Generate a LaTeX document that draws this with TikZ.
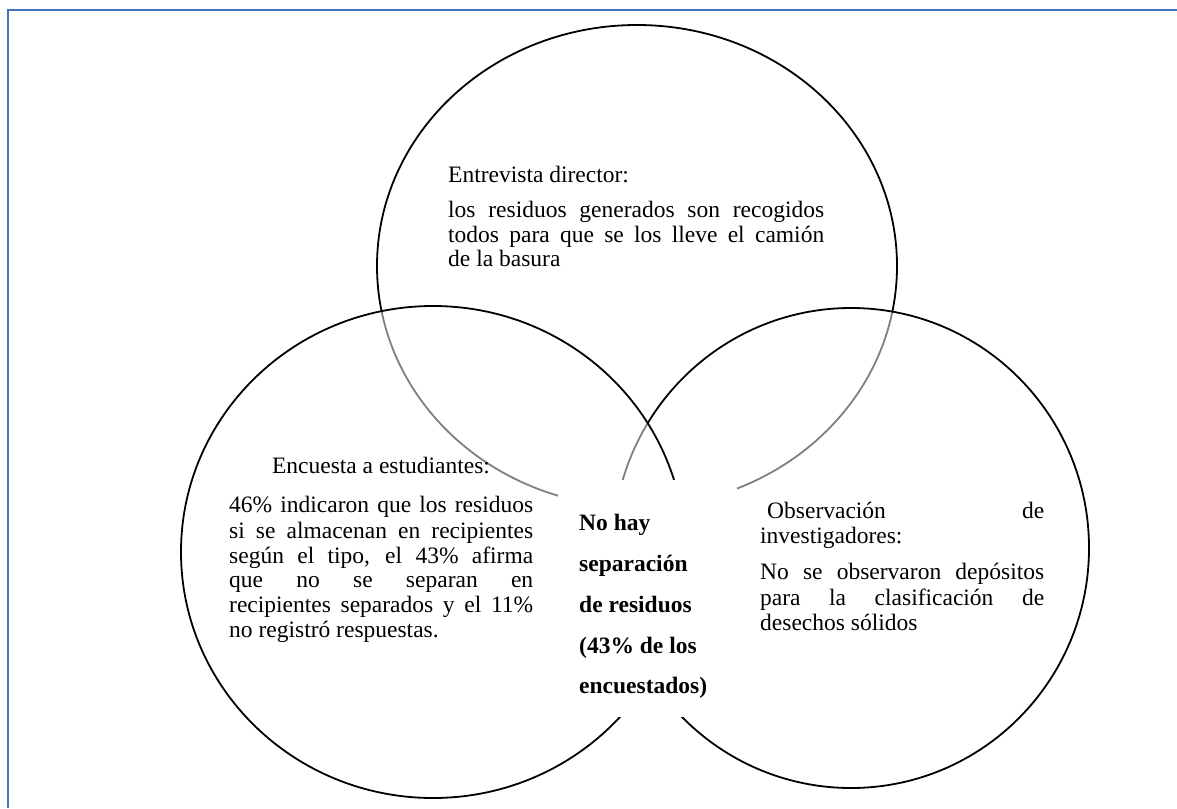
\documentclass[tikz,border=0pt]{standalone}
\usepackage{fontspec}
\setmainfont{Liberation Serif}
\definecolor{framecol}{RGB}{68,114,196}
\begin{document}
\begin{tikzpicture}[x=1pt,y=-1pt,
  ring/.style={draw=black, line width=1.8pt},
  veil/.style={ring, fill=white, fill opacity=0.5},
  txt/.style={inner sep=0pt, anchor=base west, font=\fontsize{23.5}{28}\selectfont},
  txtc/.style={txt, anchor=base},
  hot/.style={txt, font=\fontsize{23.5}{28}\selectfont\bfseries}]
\useasboundingbox (0,0) rectangle (1177,808);
\fill[white] (0,0) rectangle (1177,808);

% outer frame
\draw[framecol, line width=1.5pt] (1177,10) -- (8,10) -- (8,808);

% the three sets: interview (top), observation (right), survey (left)
\draw[ring, fill=white] (637,266) ellipse [x radius=260pt, y radius=241pt];
\draw[veil] (851,548) ellipse [x radius=238pt, y radius=240pt];
\draw[veil] (433,552) ellipse [x radius=252pt, y radius=246pt];

% central finding
\node[fill=white, inner sep=0pt, minimum width=179pt, minimum height=237pt] (core) at (647.5,598.5) {};
\node[hot] (c1) at (579,530) {No hay};
\node[hot] (c2) at (579,571) {separación};
\node[hot] (c3) at (579,612) {de residuos};
\node[hot] (c4) at (579,653) {(43\% de los};
\node[hot] (c5) at (579,693) {encuestados)};

% interview with the director
\node[txt] (a0) at (448,182) {Entrevista director:};
\node[txt] (a1) at (448,217) {\makebox[376pt][s]{los residuos generados son recogidos}};
\node[txt] (a2) at (448,242) {\makebox[376pt][s]{todos para que se los lleve el camión}};
\node[txt] (a3) at (448,266) {de la basura};

% student survey
\node[txtc] (b0) at (381,473) {Encuesta a estudiantes:};
\node[txt] (b1) at (229,512) {\makebox[304pt][s]{46\% indicaron que los residuos}};
\node[txt] (b2) at (229,538) {\makebox[304pt][s]{si se almacenan en recipientes}};
\node[txt] (b3) at (229,563) {\makebox[304pt][s]{según el tipo, el 43\% afirma}};
\node[txt] (b4) at (229,587) {\makebox[304pt][s]{que no se separan en}};
\node[txt] (b5) at (229,612) {\makebox[304pt][s]{recipientes separados y el 11\%}};
\node[txt] (b6) at (229,637) {no registró respuestas.};

% researchers' observation
\node[txt] (d0) at (760,518) {\makebox[284pt]{\hspace{7pt}Observación\hfill de}};
\node[txt] (d1) at (760,543) {investigadores:};
\node[txt] (d2) at (760,579) {\makebox[284pt][s]{No se observaron depósitos}};
\node[txt] (d3) at (760,605) {\makebox[284pt][s]{para la clasificación de}};
\node[txt] (d4) at (760,630) {desechos sólidos};
\end{tikzpicture}
\end{document}
